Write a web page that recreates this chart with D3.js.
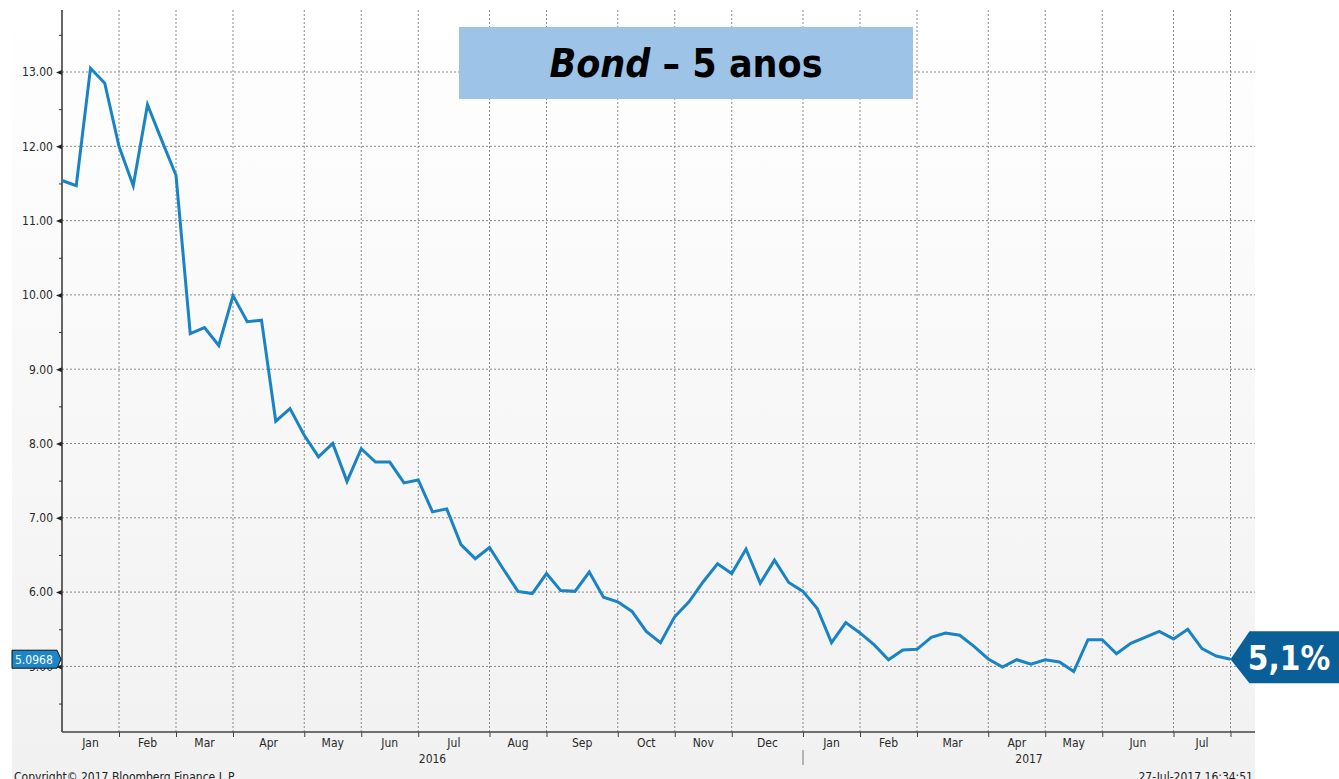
<!DOCTYPE html>
<html>
<head>
<meta charset="utf-8">
<script src="https://cdn.jsdelivr.net/npm/d3@7"></script>
<style>
  html, body { margin: 0; padding: 0; background: #fff; }
  svg { display: block; }
  .tick text { font-family: "DejaVu Sans Condensed", "DejaVu Sans", sans-serif; }
</style>
</head>
<body>
<svg id="chart"></svg>
<script>
// weekly yields (Fridays, Jan 2016 - Jul 2017)
const values = [11.54, 11.47, 13.05, 12.85, 12.00, 11.47, 12.56, 12.08, 11.61, 9.48,
  9.56, 9.32, 9.99, 9.64, 9.66, 8.30, 8.47, 8.11, 7.82, 8.00,
  7.49, 7.93, 7.75, 7.75, 7.47, 7.51, 7.08, 7.12, 6.64, 6.45,
  6.60, 6.30, 6.01, 5.98, 6.25, 6.02, 6.01, 6.27, 5.93, 5.87,
  5.74, 5.47, 5.32, 5.67, 5.87, 6.14, 6.38, 6.25, 6.58, 6.12,
  6.43, 6.13, 6.01, 5.78, 5.32, 5.59, 5.45, 5.29, 5.09, 5.22,
  5.23, 5.39, 5.45, 5.42, 5.27, 5.10, 4.99, 5.09, 5.03, 5.09,
  5.06, 4.93, 5.36, 5.36, 5.17, 5.31, 5.39, 5.47, 5.37, 5.50,
  5.24, 5.14, 5.0968];
const yTicks = [5, 6, 7, 8, 9, 10, 11, 12, 13];
const yMinorTicks = [4.5, 5.5, 6.5, 7.5, 8.5, 9.5, 10.5, 11.5, 12.5, 13.5];
const monthNames = ["Jan", "Feb", "Mar", "Apr", "May", "Jun", "Jul", "Aug", "Sep", "Oct", "Nov", "Dec"];
const years = ["2016", "2017"];
const lastLabel = "5.0968";
const calloutLabel = "5,1%";
const copyright = "Copyright\u00a9 2017 Bloomberg Finance L.P.";
const stamp = "27-Jul-2017 16:34:51";

const W = 1339, H = 779;
const plot = { left: 62, right: 1255, top: 10, bottom: 732 };
const font = '"DejaVu Sans Condensed", "DejaVu Sans", sans-serif';

const dates = d3.timeFriday.range(new Date(2016, 0, 1), new Date(2017, 6, 29));
const data = dates.map((d, i) => ({ date: d, value: values[i] }));

const svg = d3.select("#chart").attr("width", W).attr("height", H);

// background gradient panel
const grad = svg.append("defs").append("linearGradient")
  .attr("id", "bg").attr("x1", 0).attr("y1", 0).attr("x2", 0).attr("y2", 1);
grad.append("stop").attr("offset", "0%").attr("stop-color", "#ffffff");
grad.append("stop").attr("offset", "100%").attr("stop-color", "#f1f1f1");
svg.append("rect").attr("x", 12).attr("y", 0).attr("width", plot.right - 12).attr("height", H)
  .attr("fill", "url(#bg)");

const x = d3.scaleTime()
  .domain([dates[0], dates[dates.length - 1]])
  .range([62, 1230.5]);
const y = d3.scaleLinear()
  .domain([4, 14])
  .range([740.7, -2.3]);

// last Friday of every month -> month boundaries
const monthEnds = [];
dates.forEach((d, i) => {
  const n = dates[i + 1];
  if (!n || n.getMonth() !== d.getMonth()) monthEnds.push(d);
});

// grid
svg.append("g").selectAll("line.h")
  .data(yTicks).enter().append("line")
  .attr("x1", plot.left).attr("x2", plot.right)
  .attr("y1", d => y(d)).attr("y2", d => y(d))
  .attr("stroke", "#8a8a8a").attr("stroke-dasharray", "2,2");
svg.append("g").selectAll("line.v")
  .data(monthEnds).enter().append("line")
  .attr("x1", d => x(d)).attr("x2", d => x(d))
  .attr("y1", plot.top).attr("y2", plot.bottom)
  .attr("stroke", "#8a8a8a").attr("stroke-dasharray", "2,2");

// y axis
const yAxis = svg.append("g")
  .attr("transform", `translate(${plot.left},0)`)
  .call(d3.axisLeft(y).tickValues(yTicks).tickFormat(d3.format(".2f")).tickSize(0).tickPadding(9));
yAxis.select(".domain").remove();
yAxis.selectAll(".tick text").attr("font-size", 12).attr("fill", "#2a2a2a");
yAxis.selectAll(".tick").append("path")
  .attr("d", "M0,-2.5L-6,0L0,2.5Z").attr("fill", "#222");

const yMinor = svg.append("g")
  .attr("transform", `translate(${plot.left},0)`)
  .call(d3.axisLeft(y).tickValues(yMinorTicks).tickFormat("").tickSize(3));
yMinor.select(".domain").remove();
yMinor.selectAll(".tick line").attr("stroke", "#333");

svg.append("line")
  .attr("x1", plot.left).attr("x2", plot.left)
  .attr("y1", plot.top).attr("y2", plot.bottom)
  .attr("stroke", "#333").attr("stroke-width", 1.5);

// x axis
const xAxis = svg.append("g")
  .attr("transform", `translate(0,${plot.bottom})`)
  .call(d3.axisBottom(x).tickValues(monthEnds).tickFormat("").tickSize(5));
xAxis.select(".domain").remove();
xAxis.selectAll(".tick line").attr("stroke", "#444");
svg.append("line")
  .attr("x1", plot.left).attr("x2", plot.right)
  .attr("y1", plot.bottom).attr("y2", plot.bottom)
  .attr("stroke", "#444").attr("stroke-width", 1.5);

// month labels centred between boundaries
const bounds = [x(dates[0])].concat(monthEnds.map(d => x(d)));
svg.append("g").selectAll("text")
  .data(monthEnds).enter().append("text")
  .attr("x", (d, i) => (bounds[i] + bounds[i + 1]) / 2)
  .attr("y", 747)
  .attr("text-anchor", "middle")
  .attr("font-family", font).attr("font-size", 12).attr("fill", "#2a2a2a")
  .text(d => monthNames[d.getMonth()]);

// year labels
const yearSplit = x(monthEnds.find(d => d.getFullYear() === 2016 && d.getMonth() === 11));
const yearSpans = [[x(dates[0]), yearSplit], [yearSplit, plot.right]];
svg.append("g").selectAll("text")
  .data(years).enter().append("text")
  .attr("x", (d, i) => (yearSpans[i][0] + yearSpans[i][1]) / 2)
  .attr("y", 763)
  .attr("text-anchor", "middle")
  .attr("font-family", font).attr("font-size", 12).attr("fill", "#2a2a2a")
  .text(d => d);
svg.append("line")
  .attr("x1", yearSplit).attr("x2", yearSplit)
  .attr("y1", 750).attr("y2", 765)
  .attr("stroke", "#777");

// series line
svg.append("path")
  .datum(data)
  .attr("fill", "none")
  .attr("stroke", "#1a84c3")
  .attr("stroke-width", 3)
  .attr("stroke-linejoin", "miter")
  .attr("d", d3.line().x(d => x(d.date)).y(d => y(d.value)));

// last value tag on the y axis
const last = data[data.length - 1];
const ly = y(last.value);
svg.append("path")
  .attr("d", `M12,${ly - 9}L57,${ly - 9}L61,${ly}L57,${ly + 9}L12,${ly + 9}Z`)
  .attr("fill", "#1c87c8").attr("stroke", "#111").attr("stroke-width", 1);
svg.append("text")
  .attr("x", 15).attr("y", ly + 4.5)
  .attr("font-family", font).attr("font-size", 12).attr("fill", "#fff")
  .text(lastLabel);

// callout on the right
const lx = x(last.date);
svg.append("path")
  .attr("d", `M${lx},${ly}L${lx + 19},${ly - 28}L${W},${ly - 28}L${W},${ly + 24}L${lx + 19},${ly + 24}Z`)
  .attr("fill", "#0b5f98");
svg.append("text")
  .attr("x", 1289).attr("y", ly + 11)
  .attr("text-anchor", "middle")
  .attr("font-family", font).attr("font-weight", "bold").attr("font-size", 33).attr("fill", "#fff")
  .text(calloutLabel);

// title box
svg.append("rect")
  .attr("x", 459).attr("y", 27).attr("width", 454).attr("height", 72)
  .attr("fill", "#9dc3e6");
const title = svg.append("text")
  .attr("x", 686).attr("y", 77)
  .attr("text-anchor", "middle")
  .attr("font-family", font).attr("font-weight", "bold").attr("font-size", 39).attr("fill", "#000");
title.append("tspan").attr("font-style", "italic").text("Bond");
title.append("tspan").text(" \u2013 5 anos");

// footer
svg.append("text")
  .attr("x", 14).attr("y", 781)
  .attr("font-family", font).attr("font-size", 12).attr("fill", "#222")
  .text(copyright);
svg.append("text")
  .attr("x", 1253).attr("y", 781)
  .attr("text-anchor", "end")
  .attr("font-family", font).attr("font-size", 12).attr("fill", "#222")
  .text(stamp);
</script>
</body>
</html>
